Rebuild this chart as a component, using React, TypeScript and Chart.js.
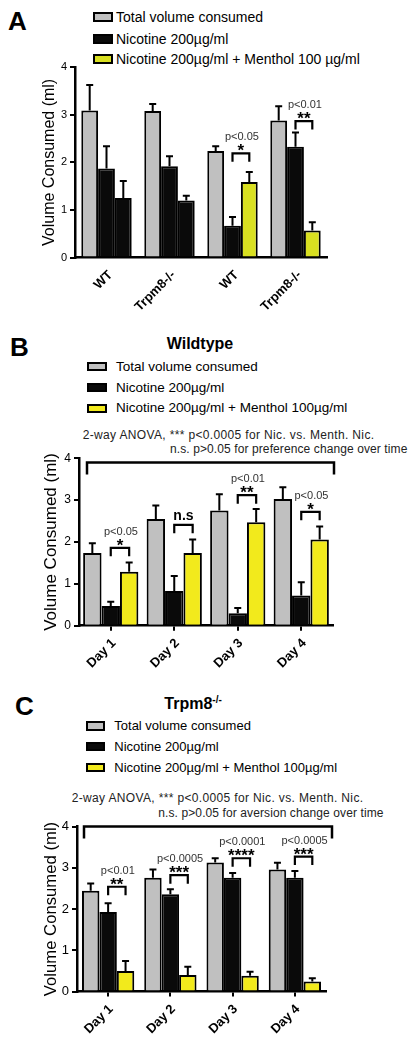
import React, { useEffect, useRef } from 'react';
import { Chart, registerables } from 'chart.js';

Chart.register(...registerables);

const FONT = "'Liberation Sans', Arial, Helvetica, sans-serif";
Chart.defaults.font.family = FONT;
Chart.defaults.color = '#000';

const GRAY = '#c0c0c0';
const BLACK = '#0a0a0a';
const YELLOW_A = '#d9e021';
const YELLOW = '#f2ea1c';

// ---------- Panel A ----------
const aCategories = ['WT', 'Trpm8-/-', 'WT', 'Trpm8-/-'];
const aTotal = [3.09, 3.08, 2.24, 2.88];
const aTotalErr = [3.63, 3.23, 2.34, 3.18];
const aNic = [1.87, 1.92, 0.67, 2.33];
const aNicErr = [2.34, 2.13, 0.85, 2.63];
const aThird = [1.25, 1.2, 1.59, 0.57];
const aThirdErr = [1.61, 1.3, 1.8, 0.74];
const aThirdColors = [BLACK, BLACK, YELLOW_A, YELLOW_A];
const aSigGroups = [2, 3];
const aSigLevels = [2.19, 2.87];
const aSigMarks = ['*', '**'];
const aSigP = ['p<0.05', 'p<0.01'];

// ---------- Panel B (Wildtype) ----------
const bCategories = ['Day 1', 'Day 2', 'Day 3', 'Day 4'];
const bTotal = [1.74, 2.55, 2.75, 3.03];
const bTotalErr = [1.97, 2.87, 3.14, 3.31];
const bNic = [0.47, 0.83, 0.3, 0.72];
const bNicErr = [0.57, 1.19, 0.42, 1.04];
const bMenth = [1.29, 1.74, 2.47, 2.06];
const bMenthErr = [1.51, 2.06, 2.79, 2.37];
const bSigGroups = [0, 1, 2, 3];
const bSigLevels = [1.86, 2.41, 3.12, 2.72];
const bSigMarks = ['*', 'n.s', '**', '*'];
const bSigP = ['p<0.05', '', 'p<0.01', 'p<0.05'];
const bOverallLevel = 3.9;

// ---------- Panel C (Trpm8-/-) ----------
const cCategories = ['Day 1', 'Day 2', 'Day 3', 'Day 4'];
const cTotal = [2.44, 2.76, 3.13, 2.96];
const cTotalErr = [2.62, 2.96, 3.23, 3.12];
const cNic = [1.93, 2.36, 2.76, 2.76];
const cNicErr = [2.14, 2.48, 2.87, 2.92];
const cMenth = [0.5, 0.4, 0.38, 0.24];
const cMenthErr = [0.74, 0.6, 0.48, 0.32];
const cSigGroups = [0, 1, 2, 3];
const cSigLevels = [2.54, 2.82, 3.23, 3.27];
const cSigMarks = ['**', '***', '****', '***'];
const cSigP = ['p<0.01', 'p<0.0005', 'p<0.0001', 'p<0.0005'];
const cOverallLevel = 4.0;

const yTickValues = [0, 1, 2, 3, 4];

type PanelCfg = {
  top: number;
  height: number;
  areaLeft: number;
  areaRight: number;
  areaTop: number;
  areaBottom: number;
  labels: string[];
  series: number[][];
  errors: number[][];
  thirdColors: string[];
  catPct: number;
  xTicks: boolean;
  xLabelPad: number;
  xLabelOffset: number;
  yTickSize: number;
  titleSize: number;
  titleX: number;
  sigGroups: number[];
  sigLevels: number[];
  sigMarks: string[];
  sigP: string[];
  overall?: { level: number; inset: number; outset: number };
};

function makeAnnot(cfg: PanelCfg) {
  return {
    id: 'annot',
    afterDatasetsDraw(chart: any) {
      const { ctx, scales, chartArea } = chart;
      const y = scales.y;
      ctx.save();
      ctx.strokeStyle = '#000';
      ctx.lineCap = 'butt';
      ctx.lineJoin = 'miter';
      // error bars (upper only)
      cfg.errors.forEach((arr, di) => {
        const meta = chart.getDatasetMeta(di);
        arr.forEach((v, i) => {
          const el = meta.data[i];
          const yt = y.getPixelForValue(v);
          ctx.lineWidth = 2;
          ctx.beginPath();
          ctx.moveTo(el.x, el.y);
          ctx.lineTo(el.x, yt);
          ctx.moveTo(el.x - 3.5, yt);
          ctx.lineTo(el.x + 3.5, yt);
          ctx.stroke();
        });
      });
      // significance brackets
      cfg.sigGroups.forEach((g, k) => {
        const x1 = chart.getDatasetMeta(1).data[g].x;
        const x2 = chart.getDatasetMeta(2).data[g].x;
        const yt = y.getPixelForValue(cfg.sigLevels[k]);
        ctx.lineWidth = 2.2;
        ctx.beginPath();
        ctx.moveTo(x1, yt + 8.5);
        ctx.lineTo(x1, yt);
        ctx.lineTo(x2, yt);
        ctx.lineTo(x2, yt + 8.5);
        ctx.stroke();
        const xm = (x1 + x2) / 2;
        const mark = cfg.sigMarks[k];
        ctx.textAlign = 'center';
        ctx.textBaseline = 'alphabetic';
        ctx.fillStyle = '#000';
        if (mark.startsWith('*')) {
          ctx.font = `bold 17px ${FONT}`;
          ctx.fillText(mark, xm, yt + 3);
        } else {
          ctx.font = `bold 14px ${FONT}`;
          ctx.fillText(mark, xm, yt - 5);
        }
        const p = cfg.sigP[k];
        if (p) {
          ctx.font = `11px ${FONT}`;
          ctx.fillStyle = '#333';
          ctx.fillText(p, xm + 1, yt - 13);
        }
      });
      if (cfg.overall) {
        const yt = y.getPixelForValue(cfg.overall.level);
        const xl = chartArea.left + cfg.overall.inset;
        const xr = chartArea.right + cfg.overall.outset;
        ctx.lineWidth = 2.5;
        ctx.beginPath();
        ctx.moveTo(xl, yt + 12);
        ctx.lineTo(xl, yt);
        ctx.lineTo(xr, yt);
        ctx.lineTo(xr, yt + 12);
        ctx.stroke();
      }
      ctx.restore();
    },
  };
}

function BarPanel({ cfg }: { cfg: PanelCfg }) {
  const ref = useRef<HTMLCanvasElement | null>(null);
  useEffect(() => {
    if (!ref.current) return;
    const W = 417;
    const colors = [GRAY, BLACK, cfg.thirdColors];
    const chart = new Chart(ref.current, {
      type: 'bar',
      data: {
        labels: cfg.labels,
        datasets: cfg.series.map((s, i) => ({
          data: s,
          backgroundColor: colors[i] as any,
          borderColor: '#000',
          borderWidth: 2,
          borderSkipped: 'bottom' as any,
        })),
      },
      options: {
        animation: false,
        responsive: false,
        maintainAspectRatio: false,
        layout: {
          padding: {
            left: 0,
            right: W - cfg.areaRight,
            top: cfg.areaTop - cfg.top,
            bottom: 0,
          },
        },
        datasets: { bar: { categoryPercentage: cfg.catPct, barPercentage: 1 } },
        plugins: { legend: { display: false }, tooltip: { enabled: false } },
        scales: {
          x: {
            offset: true,
            grid: {
              display: true,
              drawOnChartArea: false,
              offset: false,
              drawTicks: cfg.xTicks,
              tickLength: 5,
              color: '#000',
              lineWidth: 2,
            },
            border: { display: true, color: '#000', width: 2.5 },
            ticks: {
              maxRotation: 45,
              minRotation: 45,
              color: '#000',
              padding: cfg.xLabelPad,
              labelOffset: cfg.xLabelOffset,
              font: { size: 13, weight: 'bold', family: FONT },
            },
            afterFit: (s: any) => {
              s.height = cfg.top + cfg.height - cfg.areaBottom;
            },
          },
          y: {
            min: 0,
            max: 4,
            afterBuildTicks: (s: any) => {
              s.ticks = yTickValues.map((v) => ({ value: v }));
            },
            ticks: {
              color: '#000',
              padding: 3,
              font: { size: cfg.yTickSize, family: FONT },
            },
            grid: {
              drawOnChartArea: false,
              drawTicks: true,
              tickLength: 5,
              color: '#000',
              lineWidth: 2,
            },
            border: { display: true, color: '#000', width: 2.5 },
            title: {
              display: true,
              text: 'Volume Consumed (ml)',
              color: '#000',
              font: { size: cfg.titleSize, family: FONT },
              padding: { top: cfg.titleX - (cfg.titleSize * 1.2) / 2, bottom: 0 },
            },
            afterFit: (s: any) => {
              s.width = cfg.areaLeft;
            },
          },
        },
      } as any,
      plugins: [makeAnnot(cfg) as any],
    });
    return () => chart.destroy();
  }, [cfg]);
  return (
    <canvas
      ref={ref}
      width={417}
      height={cfg.height}
      style={{ position: 'absolute', left: 0, top: cfg.top, width: 417, height: cfg.height }}
    />
  );
}

function Txt(props: {
  x: number;
  y: number;
  size: number;
  bold?: boolean;
  center?: boolean;
  color?: string;
  spacing?: number;
  children: React.ReactNode;
}) {
  const { x, y, size, bold, center, color, spacing, children } = props;
  const style: React.CSSProperties = {
    position: 'absolute',
    top: y - size * 0.59,
    fontSize: size,
    lineHeight: `${size * 1.2}px`,
    fontFamily: FONT,
    fontWeight: bold ? 'bold' : 'normal',
    color: color || '#000',
    whiteSpace: 'nowrap',
    letterSpacing: spacing ? `${spacing}px` : undefined,
  };
  if (center) {
    style.left = x - 200;
    style.width = 400;
    style.textAlign = 'center';
  } else {
    style.left = x;
  }
  return <div style={style}>{children}</div>;
}

function Legend(props: {
  boxX: number;
  boxW: number;
  boxH: number;
  textX: number;
  rows: number[];
  size: number;
  labels: string[];
  colors: string[];
}) {
  const { boxX, boxW, boxH, textX, rows, size, labels, colors } = props;
  return (
    <>
      {labels.map((lab, i) => (
        <React.Fragment key={i}>
          <div
            style={{
              position: 'absolute',
              left: boxX,
              top: rows[i] - boxH / 2,
              width: boxW,
              height: boxH,
              boxSizing: 'border-box',
              border: '2px solid #000',
              background: colors[i],
            }}
          />
          <Txt x={textX} y={rows[i]} size={size}>
            {lab}
          </Txt>
        </React.Fragment>
      ))}
    </>
  );
}

const legendLabelsA = ['Total volume consumed', 'Nicotine 200µg/ml', 'Nicotine 200µg/ml + Menthol 100 µg/ml'];
const legendLabelsBC = ['Total volume consumed', 'Nicotine 200µg/ml', 'Nicotine 200µg/ml + Menthol 100µg/ml'];

const cfgA: PanelCfg = {
  top: 0,
  height: 320,
  areaLeft: 75,
  areaRight: 327,
  areaTop: 67.3,
  areaBottom: 257.5,
  labels: aCategories,
  series: [aTotal, aNic, aThird],
  errors: [aTotalErr, aNicErr, aThirdErr],
  thirdColors: aThirdColors,
  catPct: 0.8,
  xTicks: false,
  xLabelPad: 10,
  xLabelOffset: 4,
  yTickSize: 11,
  titleSize: 16,
  titleX: 50,
  sigGroups: aSigGroups,
  sigLevels: aSigLevels,
  sigMarks: aSigMarks,
  sigP: aSigP,
};

const cfgB: PanelCfg = {
  top: 440,
  height: 250,
  areaLeft: 79,
  areaRight: 333,
  areaTop: 458.3,
  areaBottom: 625.7,
  labels: bCategories,
  series: [bTotal, bNic, bMenth],
  errors: [bTotalErr, bNicErr, bMenthErr],
  thirdColors: [YELLOW, YELLOW, YELLOW, YELLOW],
  catPct: 0.87,
  xTicks: true,
  xLabelPad: 5,
  xLabelOffset: 3,
  yTickSize: 12,
  titleSize: 17,
  titleX: 51.7,
  sigGroups: bSigGroups,
  sigLevels: bSigLevels,
  sigMarks: bSigMarks,
  sigP: bSigP,
  overall: { level: bOverallLevel, inset: 8, outset: 1 },
};

const cfgC: PanelCfg = {
  top: 810,
  height: 232,
  areaLeft: 77,
  areaRight: 326,
  areaTop: 826.5,
  areaBottom: 991.5,
  labels: cCategories,
  series: [cTotal, cNic, cMenth],
  errors: [cTotalErr, cNicErr, cMenthErr],
  thirdColors: [YELLOW, YELLOW, YELLOW, YELLOW],
  catPct: 0.84,
  xTicks: true,
  xLabelPad: 5,
  xLabelOffset: 3,
  yTickSize: 13,
  titleSize: 16.7,
  titleX: 51.7,
  sigGroups: cSigGroups,
  sigLevels: cSigLevels,
  sigMarks: cSigMarks,
  sigP: cSigP,
  overall: { level: cOverallLevel, inset: 7, outset: 6 },
};

export default function App() {
  return (
    <div style={{ position: 'absolute', left: 0, top: 0, width: 417, height: 1042, background: '#fff', overflow: 'hidden' }}>
      {/* Panel A */}
      <Txt x={8} y={21.7} size={26} bold>A</Txt>
      <Legend
        boxX={93.3}
        boxW={20}
        boxH={10}
        textX={116}
        rows={[17.3, 39.3, 59]}
        size={14}
        labels={legendLabelsA}
        colors={[GRAY, BLACK, YELLOW_A]}
      />
      <BarPanel cfg={cfgA} />

      {/* Panel B */}
      <Txt x={10} y={347.3} size={26} bold>B</Txt>
      <Txt x={200} y={343.3} size={16} bold center>Wildtype</Txt>
      <Legend
        boxX={87.3}
        boxW={19.4}
        boxH={9.5}
        textX={116}
        rows={[366.7, 387.7, 408.3]}
        size={13.5}
        labels={legendLabelsBC}
        colors={[GRAY, BLACK, YELLOW]}
      />
      <Txt x={82.7} y={435} size={12} spacing={0.35} color="#222">2-way ANOVA, *** p&lt;0.0005 for Nic. vs. Menth. Nic.</Txt>
      <Txt x={170} y={449.3} size={12} spacing={0.1} color="#222">n.s. p&gt;0.05 for preference change over time</Txt>
      <BarPanel cfg={cfgB} />

      {/* Panel C */}
      <Txt x={15} y={706.7} size={26} bold>C</Txt>
      <div
        style={{
          position: 'absolute',
          left: 164.3,
          top: 703.3 - 16 * 0.59,
          fontSize: 16,
          lineHeight: '19.2px',
          fontFamily: FONT,
          fontWeight: 'bold',
          whiteSpace: 'nowrap',
        }}
      >
        Trpm8<sup style={{ fontSize: 10, lineHeight: 0 }}>-/-</sup>
      </div>
      <Legend
        boxX={86}
        boxW={19}
        boxH={9.5}
        textX={114.3}
        rows={[726, 746.7, 767.3]}
        size={13}
        labels={legendLabelsBC}
        colors={[GRAY, BLACK, YELLOW]}
      />
      <Txt x={71.7} y={797.7} size={12} spacing={0.35} color="#222">2-way ANOVA, *** p&lt;0.0005 for Nic. vs. Menth. Nic.</Txt>
      <Txt x={158.3} y={812.7} size={12} spacing={0.1} color="#222">n.s. p&gt;0.05 for aversion change over time</Txt>
      <BarPanel cfg={cfgC} />
    </div>
  );
}
